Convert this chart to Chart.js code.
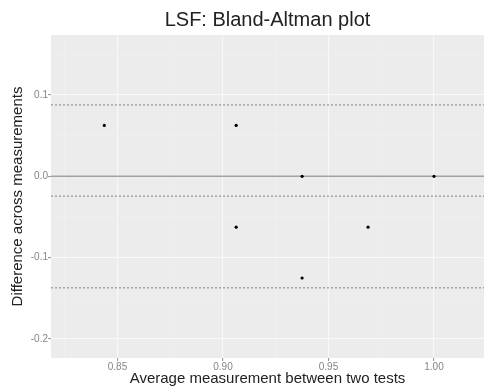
<!DOCTYPE html>
<html>
<head>
<meta charset="utf-8">
<script src="https://cdn.jsdelivr.net/npm/chart.js@4/dist/chart.umd.min.js"></script>
<style>
  html, body { margin: 0; padding: 0; background: #fff; }
</style>
</head>
<body>
<canvas id="ba" width="484" height="388"></canvas>
<script>
// averages of the two tests (x) and their differences (y)
var avgMeasure = [0.84375, 0.90625, 0.9375, 1.0, 0.90625, 0.96875, 0.9375];
var diffMeasure = [0.0625, 0.0625, 0.0, 0.0, -0.0625, -0.0625, -0.125];
// mean difference and limits of agreement
var meanDiff = -0.0245;
var upperLoA = 0.0877;
var lowerLoA = -0.1370;

var points = [];
for (var i = 0; i < avgMeasure.length; i++) {
  points.push({x: avgMeasure[i], y: diffMeasure[i]});
}

function isMajor(v, step) {
  var r = v / step;
  return Math.abs(r - Math.round(r)) < 1e-6;
}

var panelPlugin = {
  id: 'panel',
  beforeDraw: function(chart) {
    var a = chart.chartArea, ctx = chart.ctx;
    ctx.save();
    ctx.fillStyle = '#ECECEC';
    ctx.fillRect(a.left, a.top, a.right - a.left, a.bottom - a.top);
    ctx.restore();
  },
  beforeDatasetsDraw: function(chart) {
    var a = chart.chartArea, ctx = chart.ctx, y = chart.scales.y;
    ctx.save();
    // zero line
    ctx.strokeStyle = '#a3a3a3';
    ctx.lineWidth = 1.6;
    ctx.beginPath();
    ctx.moveTo(a.left, y.getPixelForValue(0));
    ctx.lineTo(a.right, y.getPixelForValue(0));
    ctx.stroke();
    // mean & limits of agreement
    ctx.setLineDash([2, 2]);
    ctx.strokeStyle = '#a0a0a0';
    ctx.lineWidth = 1.4;
    [upperLoA, meanDiff, lowerLoA].forEach(function(v) {
      var py = y.getPixelForValue(v);
      ctx.beginPath();
      ctx.moveTo(a.left, py);
      ctx.lineTo(a.right, py);
      ctx.stroke();
    });
    ctx.restore();
  },
  afterDraw: function(chart) {
    var a = chart.chartArea, ctx = chart.ctx;
    ctx.save();
    ctx.fillStyle = '#222';
    ctx.textAlign = 'center';
    ctx.textBaseline = 'middle';
    ctx.font = '20px "Liberation Sans", Arial, sans-serif';
    ctx.fillText('LSF: Bland-Altman plot', (a.left + a.right) / 2, 20);
    ctx.restore();
  }
};

var ctx = document.getElementById('ba');
var chart = new Chart(ctx, {
  type: 'scatter',
  data: {
    datasets: [{
      label: 'Difference',
      data: points,
      backgroundColor: '#000',
      borderColor: '#000',
      pointRadius: 1.6,
      pointBorderWidth: 0
    }]
  },
  options: {
    responsive: false,
    animation: false,
    layout: { autoPadding: false, padding: { top: 35, left: 0, right: 0, bottom: 0 } },
    plugins: {
      legend: { display: false },
      tooltip: { enabled: false }
    },
    scales: {
      x: {
        type: 'linear',
        min: 0.8185,
        max: 1.0237,
        border: { display: false },
        afterFit: function(s) { s.height = 30; s.paddingLeft = 0; s.paddingRight = 0; },
        grid: {
          color: function(c) { return c.tick && isMajor(c.tick.value, 0.05) ? '#f8f8f8' : '#f2f2f2'; },
          lineWidth: function(c) { return c.tick && isMajor(c.tick.value, 0.05) ? 1.1 : 0.6; },
          tickColor: function(c) { return c.tick && isMajor(c.tick.value, 0.05) ? '#999' : 'rgba(0,0,0,0)'; },
          tickLength: 3
        },
        ticks: {
          stepSize: 0.025,
          includeBounds: false,
          maxRotation: 0,
          autoSkip: false,
          padding: 0,
          color: '#858585',
          font: { family: '"Liberation Sans", Arial, sans-serif', size: 10 },
          callback: function(v) { return isMajor(v, 0.05) ? v.toFixed(2) : ''; }
        },
        title: {
          display: true,
          text: 'Average measurement between two tests',
          color: '#222',
          font: { family: '"Liberation Sans", Arial, sans-serif', size: 15 },
          padding: { top: 0, bottom: 0 }
        }
      },
      y: {
        type: 'linear',
        min: -0.2233,
        max: 0.1736,
        border: { display: false },
        afterFit: function(s) { s.width = 51; s.paddingTop = 0; s.paddingBottom = 0; },
        grid: {
          color: function(c) { return c.tick && isMajor(c.tick.value, 0.1) ? '#f8f8f8' : '#f2f2f2'; },
          lineWidth: function(c) { return c.tick && isMajor(c.tick.value, 0.1) ? 1.1 : 0.6; },
          tickColor: function(c) { return c.tick && isMajor(c.tick.value, 0.1) ? '#999' : 'rgba(0,0,0,0)'; },
          tickLength: 3
        },
        ticks: {
          stepSize: 0.05,
          includeBounds: false,
          autoSkip: false,
          padding: 0,
          color: '#858585',
          font: { family: '"Liberation Sans", Arial, sans-serif', size: 10 },
          callback: function(v) { return isMajor(v, 0.1) ? v.toFixed(1) : ''; }
        },
        title: {
          display: true,
          text: 'Difference across measurements',
          color: '#222',
          font: { family: '"Liberation Sans", Arial, sans-serif', size: 15 },
          padding: { top: 9, bottom: 0 }
        }
      }
    }
  },
  plugins: [panelPlugin]
});
</script>
</body>
</html>
